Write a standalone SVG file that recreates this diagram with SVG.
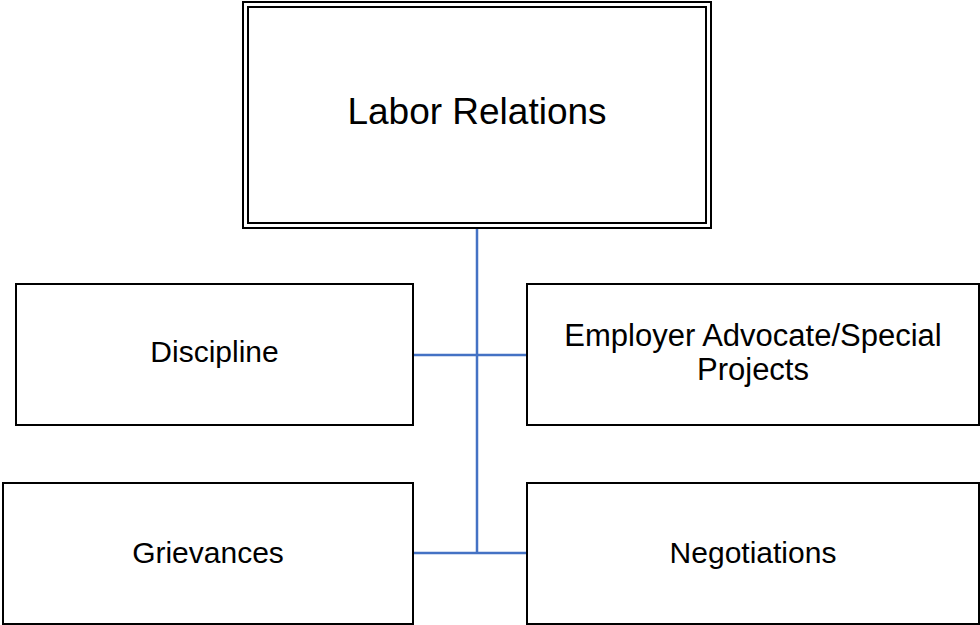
<svg xmlns="http://www.w3.org/2000/svg" width="980" height="625" viewBox="0 0 980 625">
<style>
.box{fill:#fff;stroke:#000;stroke-width:2}
.t{font-family:"Liberation Sans",Arial,sans-serif;font-size:30px;fill:#000;text-anchor:middle}
.c{stroke:#4472C4;stroke-width:2.5;fill:none}
</style>
<rect width="980" height="625" fill="#fff"/>
<g id="connectors">
<line class="c" x1="477" y1="228" x2="477" y2="553"/>
<line class="c" x1="413" y1="355" x2="527" y2="355"/>
<line class="c" x1="413" y1="553" x2="527" y2="553"/>
</g>
<g id="labor-relations">
<rect class="box" x="243" y="2" width="468" height="226"/>
<rect class="box" x="248" y="7" width="458" height="216"/>
<text class="t" x="477" y="124" style="font-size:37px">Labor Relations</text>
</g>
<g id="discipline">
<rect class="box" x="16" y="284" width="397" height="141"/>
<text class="t" x="214.5" y="362">Discipline</text>
</g>
<g id="employer-advocate">
<rect class="box" x="527" y="284" width="452" height="141"/>
<text class="t" x="753" y="346" style="font-size:31px">Employer Advocate/Special</text>
<text class="t" x="753" y="380" style="font-size:31px">Projects</text>
</g>
<g id="grievances">
<rect class="box" x="3" y="483" width="410" height="141"/>
<text class="t" x="208" y="563">Grievances</text>
</g>
<g id="negotiations">
<rect class="box" x="527" y="483" width="452" height="141"/>
<text class="t" x="753" y="563">Negotiations</text>
</g>
</svg>
